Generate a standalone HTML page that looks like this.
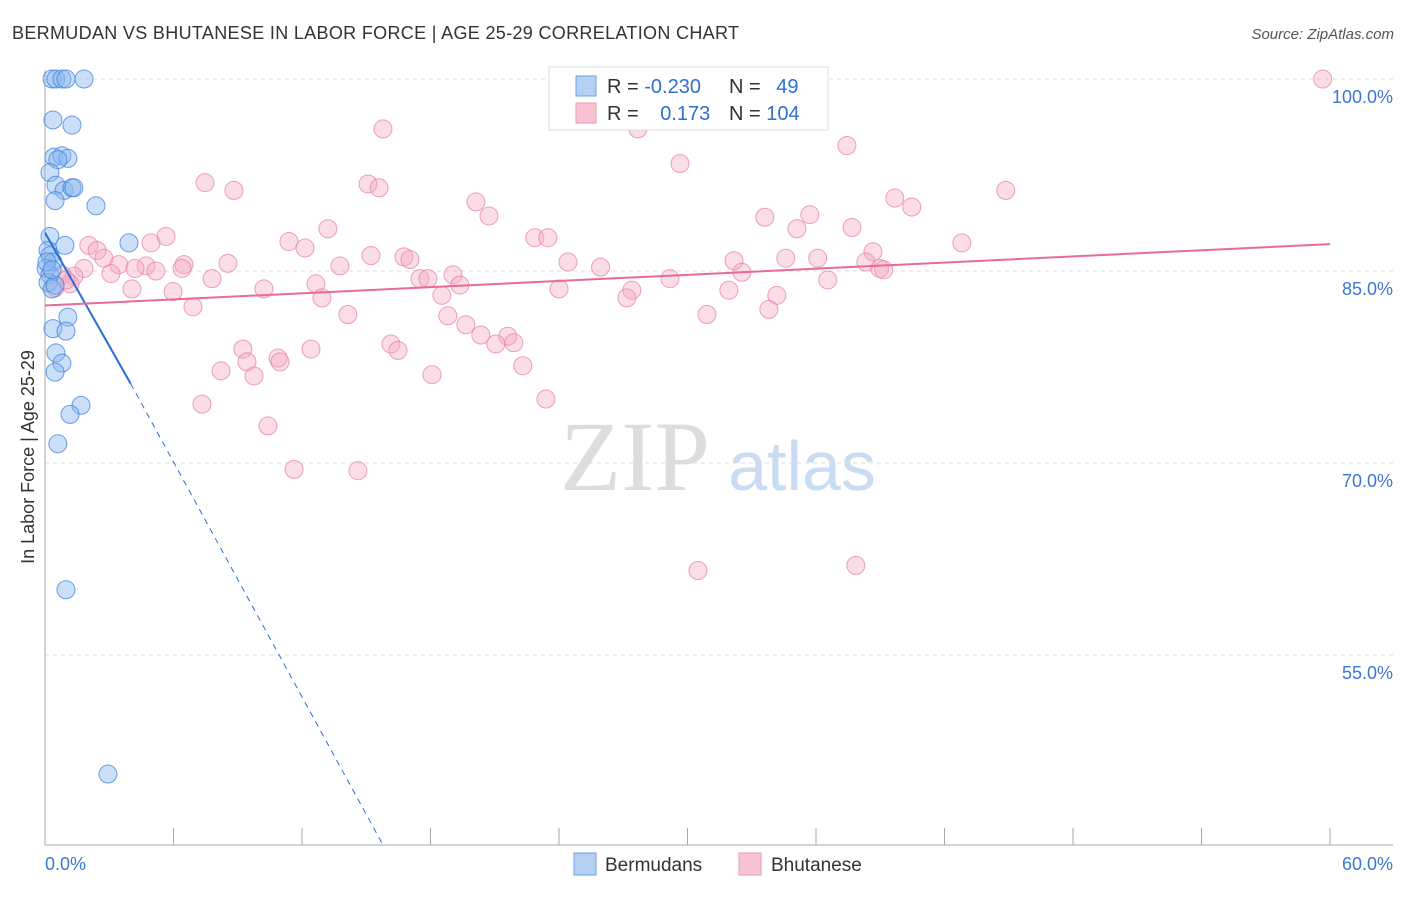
<!DOCTYPE html>
<html><head><meta charset="utf-8"><style>
body{margin:0;background:#fff;font-family:"Liberation Sans",sans-serif;}
</style></head><body>
<svg id="chart" width="1406" height="892" viewBox="0 0 1406 892" font-family="Liberation Sans, sans-serif">
<text x="12" y="39" font-size="18" fill="#333" textLength="727">BERMUDAN VS BHUTANESE IN LABOR FORCE | AGE 25-29 CORRELATION CHART</text>
<text x="1394" y="39" font-size="15" fill="#555" font-style="italic" text-anchor="end">Source: ZipAtlas.com</text>
<text x="0" y="0" font-size="18" fill="#333" text-anchor="middle" transform="translate(34,457) rotate(-90)">In Labor Force | Age 25-29</text>
<text x="635" y="490" font-size="100" fill="#ddd" style="font-family:'Liberation Serif',serif" text-anchor="middle">ZIP</text>
<text x="802" y="490" font-size="70" fill="#c9dcf2" text-anchor="middle">atlas</text>
<g id="grid"></g><g id="axes"></g><g id="pts"></g><g id="trends"></g>
<g>
<rect x="549" y="67" width="279" height="63" fill="#fff" stroke="#ddd"/>
<rect x="576" y="76" width="20" height="20" fill="#b5d0f3" stroke="#6a9fe0"/>
<rect x="576" y="103" width="20" height="20" fill="#f8c3d3" stroke="#ea9ab2"/>
<text x="607" y="93" font-size="20" fill="#333">R = <tspan fill="#2f6fd0">-0.230</tspan></text>
<text x="729" y="93" font-size="20" fill="#333">N = <tspan fill="#2f6fd0" dx="10">49</tspan></text>
<text x="607" y="120" font-size="20" fill="#333">R = <tspan fill="#2f6fd0" dx="16">0.173</tspan></text>
<text x="729" y="120" font-size="20" fill="#333">N = <tspan fill="#2f6fd0">104</tspan></text>
</g>
<g>
<rect x="574" y="853" width="22" height="22" fill="#b5d0f3" stroke="#6a9fe0"/>
<text x="605" y="871" font-size="19" fill="#333">Bermudans</text>
<rect x="739" y="853" width="22" height="22" fill="#f8c3d3" stroke="#ea9ab2"/>
<text x="771" y="871" font-size="19" fill="#333">Bhutanese</text>
</g>
</svg>
<script>
const yTicks=[100,85,70,55];
const yTickLabels=["100.0%","85.0%","70.0%","55.0%"];
const xTicks=[0,6,12,18,24,30,36,42,48,54,60];
const xTickLabels=["0.0%","60.0%"];
const blueX=[0.33,0.51,0.79,0.98,1.82,0.37,1.26,0.42,0.79,1.07,0.6,0.23,0.51,0.89,1.26,1.35,0.47,2.38,3.92,0.23,0.93,0.14,0.23,0.37,0.05,0.23,0.14,0.33,0.47,0.09,0.33,1.07,0.37,0.98,0.51,0.79,0.47,1.68,1.17,0.6,0.98,2.94];
const blueY=[100,100,100,100,100,96.8,96.4,93.9,94.0,93.8,93.7,92.7,91.7,91.3,91.5,91.5,90.5,90.1,87.2,87.7,87.0,86.6,86.2,85.7,85.2,84.7,84.1,83.6,83.9,85.7,85.1,81.4,80.5,80.3,78.6,77.8,77.1,74.5,73.8,71.5,60.1,45.7];
const pinkX=[59.66,15.78,27.68,37.44,29.65,7.47,8.82,15.08,15.6,44.86,39.68,40.47,20.12,20.73,33.61,35.71,35.11,37.68,13.21,5.65,4.95,11.39,12.14,22.87,23.48,42.81,2.05,2.43,15.22,16.76,17.04,38.66,2.75,3.45,4.72,6.49,8.54,6.4,4.2,5.18,24.42,25.94,32.17,34.59,36.08,38.33,38.98,39.16,13.77,1.82,3.08,1.35,0.79,1.17,0.47,0.98,7.8,17.51,17.88,19.05,32.54,36.55,29.18,19.37,4.06,5.98,10.22,12.65,12.93,18.53,24.0,27.4,27.17,31.93,34.17,6.91,14.14,18.81,30.91,33.8,19.65,20.35,21.61,21.05,21.89,16.15,16.48,9.24,12.42,9.43,10.88,10.97,22.31,8.22,9.76,18.07,23.39,7.33,10.41,11.63,14.61,30.49,37.86];
const pinkY=[100,96.1,96.1,94.8,93.4,91.9,91.3,91.8,91.5,91.3,90.7,90.0,90.4,89.3,89.2,89.4,88.3,88.4,88.3,87.7,87.2,87.3,86.8,87.6,87.6,87.2,87.0,86.6,86.2,86.1,85.9,86.5,86.0,85.5,85.4,85.5,85.6,85.2,85.2,85.0,85.7,85.3,85.8,86.0,86.0,85.7,85.2,85.1,85.4,85.2,84.8,84.6,84.7,84.0,83.7,84.3,84.4,84.4,84.4,84.7,84.9,84.3,84.4,83.9,83.6,83.4,83.6,84.0,82.9,83.1,83.6,83.5,82.9,83.5,83.1,82.2,81.6,81.5,81.6,82.0,80.8,80.0,79.9,79.3,79.4,79.3,78.8,78.9,78.9,77.9,78.2,77.9,77.6,77.2,76.8,76.9,75.0,74.6,72.9,69.5,69.4,61.6,62.0];
const blueTrend=[0,88.0,4.0,76.2,15.8,40.1];
const pinkTrend=[0,82.3,60,87.1];
const NS="http://www.w3.org/2000/svg";
const xs=v=>45+v*(1285/60);
const ys=v=>79+(100-v)*(192/15);
function mk(tag,attrs,parent){const e=document.createElementNS(NS,tag);for(const k in attrs)e.setAttribute(k,attrs[k]);parent.appendChild(e);return e;}
const grid=document.getElementById('grid'),axes=document.getElementById('axes'),pts=document.getElementById('pts'),tr=document.getElementById('trends');
yTicks.forEach((t,i)=>{
 const l=mk('line',{x1:45,x2:1393,y1:ys(t),y2:ys(t),stroke:'#ddd','stroke-dasharray':'4,4'},grid);
 
 
 const tx=mk('text',{x:1393,y:ys(t)+24,'font-size':18,fill:'#3a78d4','text-anchor':'end'},grid);
 tx.textContent=yTickLabels[i];
 
 
});
const ax=mk('path',{d:'M45 70V845H1393',stroke:'#aaa',fill:'none'},axes);


xTicks.forEach(t=>{
 const l=mk('line',{x1:xs(t),x2:xs(t),y1:828,y2:845,stroke:'#aaa'},axes);
 
 
});
[[0,'start',45],[60,'end',1393]].forEach((a,i)=>{
 const tx=mk('text',{x:a[2],y:870,'font-size':18,fill:'#3a78d4','text-anchor':a[1]},axes);
 tx.textContent=xTickLabels[i];
 
 
});
pinkX.forEach((x,i)=>{
 const c=mk('circle',{cx:xs(x),cy:ys(pinkY[i]),r:9,fill:'rgba(245,170,195,0.4)',stroke:'rgba(230,130,165,0.75)','stroke-width':1},pts);
 
 
});
blueX.forEach((x,i)=>{
 const c=mk('circle',{cx:xs(x),cy:ys(blueY[i]),r:9,fill:'rgba(140,185,240,0.45)',stroke:'rgba(60,130,220,0.75)','stroke-width':1},pts);
 
 
});
const b1=mk('line',{x1:xs(blueTrend[0]),y1:ys(blueTrend[1]),x2:xs(blueTrend[2]),y2:ys(blueTrend[3]),stroke:'#2a6fd6','stroke-width':2},tr);


const b2=mk('line',{x1:xs(blueTrend[2]),y1:ys(blueTrend[3]),x2:xs(blueTrend[4]),y2:ys(blueTrend[5]),stroke:'#2a6fd6','stroke-width':1,'stroke-dasharray':'6,5'},tr);


const p1=mk('line',{x1:xs(pinkTrend[0]),y1:ys(pinkTrend[1]),x2:xs(pinkTrend[2]),y2:ys(pinkTrend[3]),stroke:'#e8699a','stroke-width':2},tr);


</script>
</body></html>
